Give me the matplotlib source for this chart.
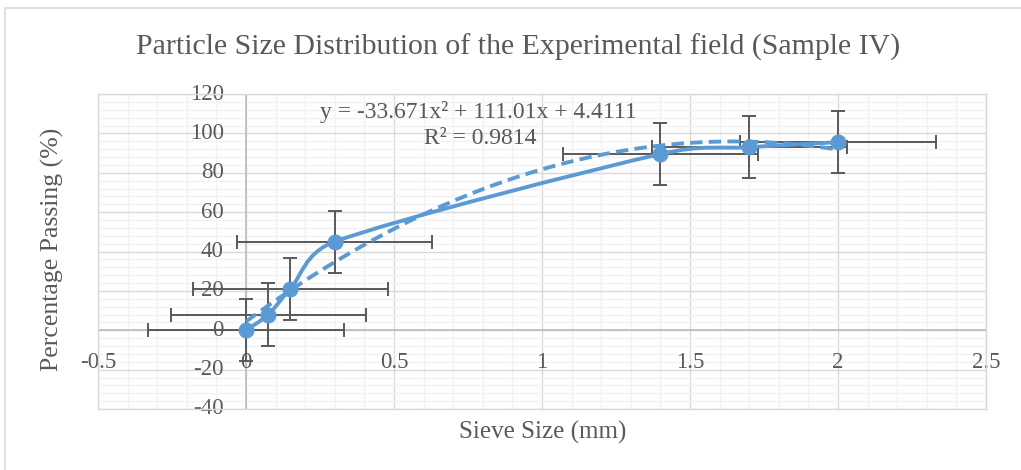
import numpy as np
import matplotlib
matplotlib.use("Agg")
import matplotlib.pyplot as plt
from matplotlib.path import Path
from matplotlib.patches import PathPatch
from matplotlib.lines import Line2D

plt.rcParams['font.family'] = ['Liberation Serif', 'DejaVu Serif']

# ---------------- data ----------------
sieve_size = [0.0, 0.075, 0.15, 0.3, 1.4, 1.7, 2.0]
percent_passing = [0.0, 8.0, 21.0, 45.0, 89.5, 93.0, 95.5]
x_error = 0.33
y_error = 15.8
trend_coef = [-33.671, 111.01, 4.4111]   # y = a x^2 + b x + c
r_squared = 0.9814

title = "Particle Size Distribution of the Experimental field (Sample IV)"
x_title = "Sieve Size (mm)"
y_title = "Percentage Passing (%)"
x_ticks = [-0.5, 0, 0.5, 1, 1.5, 2, 2.5]
x_tick_labels = ["-0.5", "0", "0.5", "1", "1.5", "2", "2.5"]
y_ticks = [-40, -20, 0, 20, 40, 60, 80, 100, 120]
y_tick_labels = ["-40", "-20", "0", "20", "40", "60", "80", "100", "120"]
equation_lines = ["y = -33.671x² + 111.01x + 4.4111", "R² = 0.9814"]

# ---------------- style ----------------
BLUE = "#5B9BD5"
TEXT = "#595959"
ERR = "#595959"
MAJOR = "#D9D9D9"
MINOR = "#F2F2F2"
AXIS = "#BFBFBF"

W, H = 1021, 470
fig = plt.figure(figsize=(W / 100, H / 100), dpi=100)
fig.patch.set_facecolor("white")

# chart border (only top and left edges are inside the image)
fig.lines.append(Line2D([5 / W, 5 / W, 1.0], [0.0, 1 - 8 / H, 1 - 8 / H], transform=fig.transFigure,
                        color="#D9D9D9", linewidth=1.2))

L, R, T, B = 98, 986, 94, 409
ax = fig.add_axes([L / W, (H - B) / H, (R - L) / W, (B - T) / H])
ax.set_xlim(-0.5, 2.5)
ax.set_ylim(-40, 120)

# grid
ax.set_xticks(np.arange(-0.5, 2.5001, 0.5))
ax.set_xticks(np.arange(-0.5, 2.5001, 0.1), minor=True)
ax.set_yticks(np.arange(-40, 120.001, 20))
ax.set_yticks(np.arange(-40, 120.001, 4), minor=True)
ax.grid(which="minor", color=MINOR, linewidth=1.0, zorder=0)
ax.grid(which="major", color=MAJOR, linewidth=1.0, zorder=0.5)
ax.tick_params(which="both", length=0, labelbottom=False, labelleft=False)
ax.set_axisbelow(True)
for s in ax.spines.values():
    s.set_color(MAJOR)
    s.set_linewidth(1.0)

# axis lines at zero
ax.axhline(0, color=AXIS, linewidth=1.3, zorder=1)
ax.axvline(0, color=AXIS, linewidth=1.3, zorder=1)

# tick labels
for xv, lab in zip(x_ticks, x_tick_labels):
    ax.text(xv, -16.5, lab, ha="center", va="center", fontsize=16.5, color=TEXT, clip_on=False, zorder=2)
for yv, lab in zip(y_ticks, y_tick_labels):
    ax.text(-0.075, yv, lab, ha="right", va="center", fontsize=16.5, color=TEXT, clip_on=False, zorder=2)

# error bars
ax.errorbar(sieve_size, percent_passing, xerr=x_error, yerr=y_error, fmt="none",
            ecolor=ERR, elinewidth=1.4, capsize=5, capthick=1.4, zorder=3)

# smoothed series line (Excel-like Bezier smoothing, computed in pixel space)
sx = (R - L) / 3.0
sy = (B - T) / 160.0
P = np.column_stack([np.array(sieve_size) * sx, np.array(percent_passing) * sy])
n = len(P)
verts = [tuple(P[0])]
codes = [Path.MOVETO]
for i in range(n - 1):
    p0 = P[i - 1] if i > 0 else P[i]
    p1, p2 = P[i], P[i + 1]
    p3 = P[i + 2] if i + 2 < n else P[i + 1]
    seg = np.linalg.norm(p2 - p1)
    t1 = (p2 - p0) / 6.0
    t2 = (p3 - p1) / 6.0
    for t in (t1, t2):
        ln = np.linalg.norm(t)
        if ln > seg / 2:
            t *= (seg / 2) / ln
    c1 = p1 + t1
    c2 = p2 - t2
    verts += [tuple(c1), tuple(c2), tuple(p2)]
    codes += [Path.CURVE4] * 3
verts = [(vx / sx, vy / sy) for vx, vy in verts]
ax.add_patch(PathPatch(Path(verts, codes), fill=False, edgecolor=BLUE, linewidth=2.8,
                       capstyle="round", zorder=4))

# polynomial trendline
xt = np.linspace(min(sieve_size), max(sieve_size), 200)
yt = np.polyval(trend_coef, xt)
ax.plot(xt, yt, color=BLUE, linewidth=2.8, linestyle=(0, (3.2, 1.6)), zorder=4)

# markers
ax.plot(sieve_size, percent_passing, linestyle="none", marker="o", markersize=10.5,
        color=BLUE, zorder=5)

# trendline equation (two lines, as in the reference)
ax.text(0.785, 111.0, equation_lines[0], ha="center", va="center", fontsize=17, color=TEXT, zorder=6)
ax.text(0.79, 97.5, equation_lines[1], ha="center", va="center", fontsize=17, color=TEXT, zorder=6)

# titles
fig.text(518 / W, 1 - 47 / H, title, ha="center", va="center", fontsize=21.5, color=TEXT)
fig.text(543 / W, 1 - 432 / H, x_title, ha="center", va="center", fontsize=18, color=TEXT)
fig.text(52 / W, 1 - 249 / H, y_title, ha="center", va="center", fontsize=18.5, color=TEXT,
         rotation=90)

fig.savefig("out.png", dpi=100, facecolor="white")
